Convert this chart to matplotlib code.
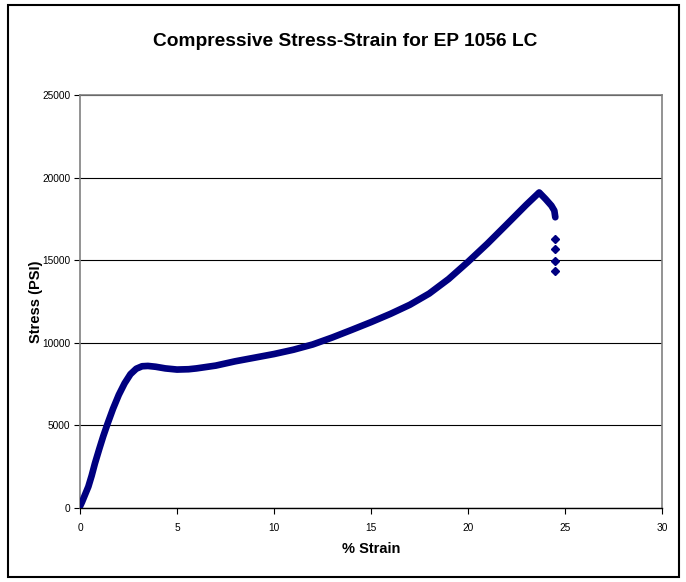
import matplotlib
matplotlib.use("Agg")
import matplotlib.pyplot as plt
from matplotlib.patches import Rectangle

plt.rcParams["font.family"] = ["Liberation Sans", "DejaVu Sans"]

# values
strain = [0.0, 0.1, 0.25, 0.43, 0.6, 0.77, 1.0, 1.2, 1.42, 1.7, 2.0, 2.3,
          2.6, 2.9, 3.2, 3.5, 3.9, 4.4, 5.0, 5.6, 6.0, 7.0, 8.0, 9.0, 10.0,
          11.0, 12.0, 13.0, 14.0, 15.0, 16.0, 17.0, 18.0, 19.0, 20.0, 21.0,
          22.0, 23.0, 23.67, 24.0, 24.3, 24.45, 24.5]
stress = [100, 350, 780, 1290, 1950, 2700, 3600, 4350, 5100, 6000, 6850, 7550,
          8100, 8430, 8580, 8600, 8550, 8450, 8380, 8400, 8450, 8620, 8880,
          9100, 9320, 9580, 9900, 10320, 10780, 11250, 11750, 12300, 12980,
          13860, 14900, 16000, 17170, 18350, 19100, 18700, 18300, 18000, 17600]
# loose points after failure
fail_strain = [24.5, 24.5, 24.5, 24.5]
fail_stress = [16300, 15700, 14950, 14330]

x_ticks = [0, 5, 10, 15, 20, 25, 30]
y_ticks = [0, 5000, 10000, 15000, 20000, 25000]

navy = "#000080"

fig = plt.figure(figsize=(6.86, 5.82), dpi=100)
ax = fig.add_axes([80 / 686, 74 / 582, 582 / 686, 413 / 582])

ax.plot(strain, stress, color=navy, linewidth=4.8, solid_capstyle="round",
        solid_joinstyle="round", zorder=3)
ax.plot(fail_strain, fail_stress, linestyle="none", color=navy,
        marker="D", markersize=4, zorder=3)

ax.set_xlim(0, 30)
ax.set_ylim(0, 25000)
ax.set_xticks(x_ticks)
ax.set_yticks(y_ticks)
ax.tick_params(labelsize=7.3, length=4, width=0.8, direction="out")
ax.tick_params(axis="y", pad=3)
ax.tick_params(axis="x", pad=7)
ax.yaxis.grid(True, color="black", linewidth=0.8)
ax.set_axisbelow(True)
for side in ["top", "right", "left"]:
    ax.spines[side].set_color("#808080")
    ax.spines[side].set_linewidth(1.2)
ax.spines["bottom"].set_color("black")
ax.spines["bottom"].set_linewidth(1.0)

ax.set_xlabel("% Strain", fontsize=10.5, fontweight="bold")
ax.xaxis.set_label_coords(0.5, -(542 - 508) / 413)
ax.set_ylabel("Stress (PSI)", fontsize=10.5, fontweight="bold")
ax.yaxis.set_label_coords(-(80 - 43) / 582, 0.5)
fig.text(0.503, 1 - 41 / 582, "Compressive Stress-Strain for EP 1056 LC",
         ha="center", va="center", fontsize=13.8, fontweight="bold")

# outer chart frame
fig.patches.append(Rectangle((8 / 686, 5 / 582), 671 / 686, 572 / 582,
                             transform=fig.transFigure, fill=False,
                             edgecolor="black", linewidth=1.5))

fig.savefig("out.png", dpi=100)
